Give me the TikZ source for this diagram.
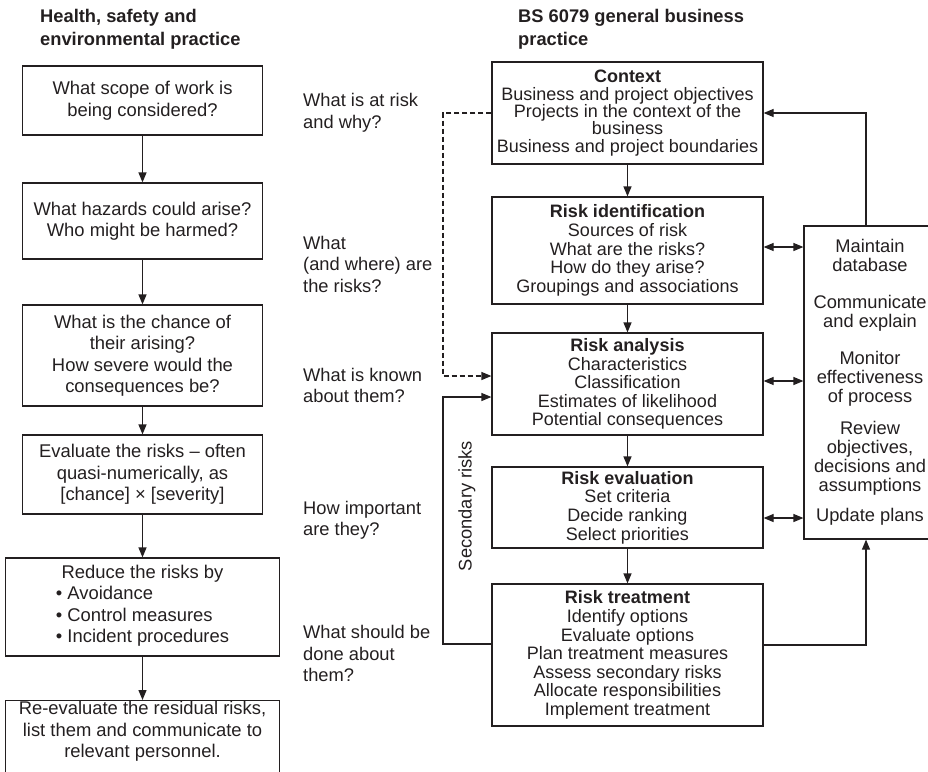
\documentclass[tikz,border=0pt]{standalone}
\usepackage{fontspec}
\setmainfont{Liberation Sans}
\usepackage{xcolor}
\usetikzlibrary{arrows.meta}

\definecolor{ink}{RGB}{35,31,32}

\begin{document}
\begin{tikzpicture}[
    x=1pt, y=-1pt,
    every node/.style={text=ink},
    hsbox/.style={rectangle, draw=ink, line width=1.2pt, align=center, inner sep=1pt, font=\fontsize{18.4}{21.5}\selectfont},
    bsbox/.style={rectangle, draw=ink, line width=1.2pt, align=center, inner sep=1pt, minimum width=271pt, font=\fontsize{18}{18.6}\selectfont},
    question/.style={anchor=west, align=left, inner sep=0pt, font=\fontsize{18.3}{21.5}\selectfont},
    heading/.style={anchor=west, align=left, inner sep=0pt, font=\fontsize{18.3}{22.5}\selectfont\bfseries},
    arrow/.style={-{Triangle[length=10pt, width=8pt]}, line width=1.2pt, draw=ink},
    twoway/.style={{Triangle[length=10pt, width=8pt]}-{Triangle[length=10pt, width=8pt]}, line width=1.2pt, draw=ink},
]
    \useasboundingbox (0,0) rectangle (928,771);

    % Headings
    \node[heading] (hshead) at (40,29.5) {Health, safety and\\environmental practice};
    \node[heading] (bshead) at (518,29.5) {BS 6079 general business\\practice};

    % Health and safety column
    \node[hsbox, minimum width=240pt, minimum height=69pt] (hs1) at (142.5,100.5) {What scope of work is\\being considered?};
    \node[hsbox, minimum width=240pt, minimum height=76pt] (hs2) at (142.5,221) {What hazards could arise?\\Who might be harmed?};
    \node[hsbox, minimum width=240pt, minimum height=101pt] (hs3) at (142.5,355.5) {What is the chance of\\their arising?\\How severe would the\\consequences be?};
    \node[hsbox, minimum width=240pt, minimum height=79pt] (hs4) at (142.5,474.5) {Evaluate the risks – often\\quasi-numerically, as\\{[chance]} × {[severity]}};
    \node[hsbox, minimum width=274pt, minimum height=98pt] (hs5) at (142.5,607) {Reduce the risks by\\\begin{tabular}[t]{@{}l@{}}• Avoidance\\• Control measures\\• Incident procedures\end{tabular}};
    \node[hsbox, anchor=north, minimum width=274pt, minimum height=72pt] (hs6) at (142.5,700) {Re-evaluate the residual risks,\\list them and communicate to\\relevant personnel.\rule[-14pt]{0pt}{1pt}};

    % Questions
    \node[question] (q1) at (303,113) {What is at risk\\and why?};
    \node[question] (q2) at (303,264) {What\\(and where) are\\the risks?};
    \node[question] (q3) at (303,385.5) {What is known\\about them?};
    \node[question] (q4) at (303,520.5) {How important\\are they?};
    \node[question] (q5) at (303,653.5) {What should be\\done about\\them?};

    % BS 6079 column
    \node[bsbox, minimum height=102pt, font=\fontsize{18}{17.4}\selectfont] (ctx) at (627.5,113) {\textbf{Context}\\Business and project objectives\\Projects in the context of the\\business\\Business and project boundaries};
    \node[bsbox, minimum height=107pt] (rid) at (627.5,250.5) {\textbf{Risk identification}\\Sources of risk\\What are the risks?\\How do they arise?\\Groupings and associations};
    \node[bsbox, minimum height=102pt] (ran) at (627.5,384) {\textbf{Risk analysis}\\Characteristics\\Classification\\Estimates of likelihood\\Potential consequences};
    \node[bsbox, minimum height=81pt] (rev) at (627.5,507.5) {\textbf{Risk evaluation}\\Set criteria\\Decide ranking\\Select priorities};
    \node[bsbox, minimum height=142pt] (rtr) at (627.5,655) {\textbf{Risk treatment}\\Identify options\\Evaluate options\\Plan treatment measures\\Assess secondary risks\\Allocate responsibilities\\Implement treatment};

    % Management box
    \node[rectangle, draw=ink, line width=1.2pt, minimum width=132pt, minimum height=313pt, align=center, font=\fontsize{18.3}{19}\selectfont] (mgmt) at (870,382.5) {Maintain\\database\\[18pt]Communicate\\and explain\\[18pt]Monitor\\effectiveness\\of process\\[13pt]Review\\objectives,\\decisions and\\assumptions\\[11pt]Update plans};

    \node[rotate=90, inner sep=0pt, font=\fontsize{18.3}{20}\selectfont] (seclabel) at (467,506) {Secondary risks};

    % Main flow
    \foreach \a/\b in {hs1/hs2, hs2/hs3, hs3/hs4, hs4/hs5, hs5/hs6, ctx/rid, rid/ran, ran/rev, rev/rtr}
        \draw[arrow] (\a) -- (\b);

    % Links to management box
    \coordinate (rid-link) at ([yshift=3.5pt]rid.east);
    \coordinate (ran-link) at ([yshift=3pt]ran.east);
    \coordinate (rev-link) at ([yshift=-10.5pt]rev.east);
    \draw[twoway] (rid-link) -- (rid-link -| mgmt.west);
    \draw[twoway] (ran-link) -- (ran-link -| mgmt.west);
    \draw[twoway] (rev-link) -- (rev-link -| mgmt.west);
    \draw[arrow] ([xshift=-4pt]mgmt.north) |- (ctx.east);
    \draw[arrow] ([yshift=10pt]rtr.east) -| ([xshift=-4pt]mgmt.south);

    % Dashed link and secondary risks loop
    \coordinate (dash-turn) at (443,376);
    \coordinate (loop-turn) at (443,397);
    \draw[arrow, dash pattern=on 5pt off 3pt] (ctx.west) -| (dash-turn) -- (ran.west |- dash-turn);
    \draw[arrow] ([yshift=11pt]rtr.west) -| (loop-turn) -- (ran.west |- loop-turn);
\end{tikzpicture}
\end{document}
